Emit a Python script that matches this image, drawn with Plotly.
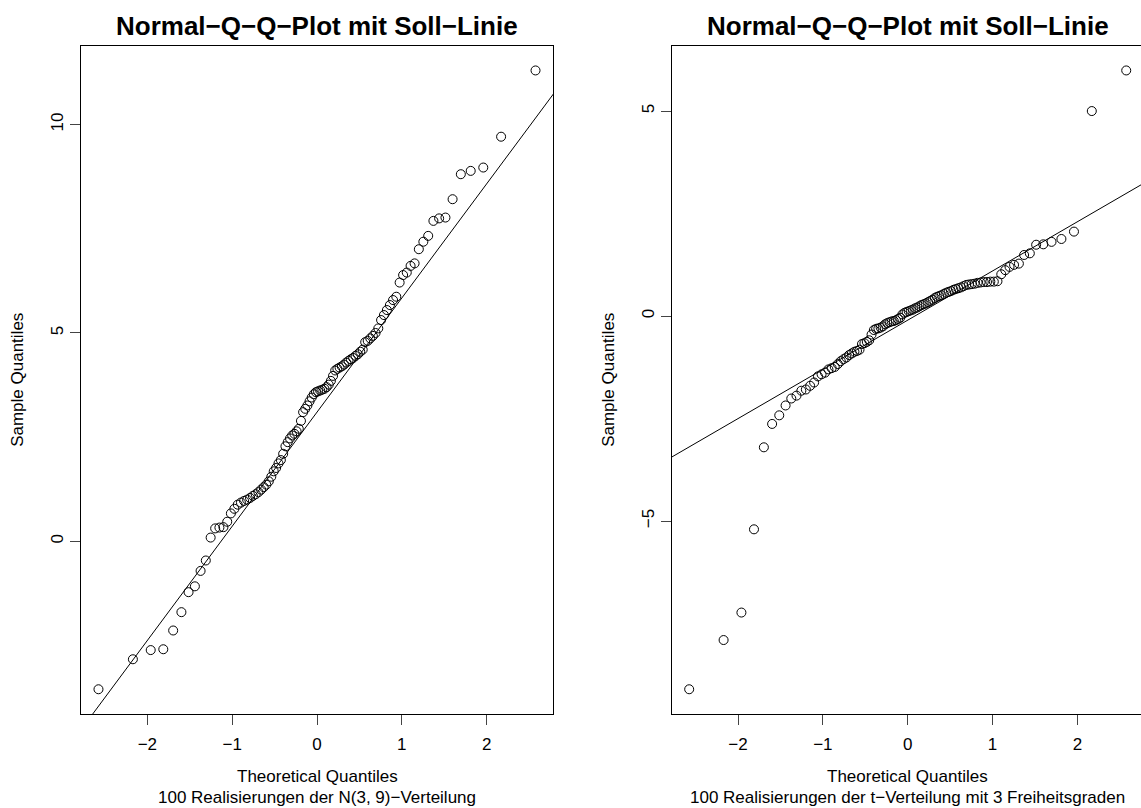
import plotly.graph_objects as go

# Theoretical normal quantiles for n = 100 (ppoints: (i - 0.5) / 100)
theo_quantiles = [
    -2.5758, -2.1701, -1.9600, -1.8119, -1.6954, -1.5982, -1.5141, -1.4395, -1.3722, -1.3106,
    -1.2536, -1.2004, -1.1503, -1.1031, -1.0581, -1.0152, -0.9741, -0.9346, -0.8965, -0.8596,
    -0.8239, -0.7892, -0.7554, -0.7225, -0.6903, -0.6588, -0.6280, -0.5978, -0.5681, -0.5388,
    -0.5101, -0.4817, -0.4538, -0.4261, -0.3989, -0.3719, -0.3451, -0.3186, -0.2924, -0.2663,
    -0.2404, -0.2147, -0.1891, -0.1637, -0.1383, -0.1130, -0.0878, -0.0627, -0.0376, -0.0125,
    0.0125, 0.0376, 0.0627, 0.0878, 0.1130, 0.1383, 0.1637, 0.1891, 0.2147, 0.2404,
    0.2663, 0.2924, 0.3186, 0.3451, 0.3719, 0.3989, 0.4261, 0.4538, 0.4817, 0.5101,
    0.5388, 0.5681, 0.5978, 0.6280, 0.6588, 0.6903, 0.7225, 0.7554, 0.7892, 0.8239,
    0.8596, 0.8965, 0.9346, 0.9741, 1.0152, 1.0581, 1.1031, 1.1503, 1.2004, 1.2536,
    1.3106, 1.3722, 1.4395, 1.5141, 1.5982, 1.6954, 1.8119, 1.9600, 2.1701, 2.5758,
]

# Sorted sample of 100 draws from N(3, 9)
sample_normal = [
    -3.55, -2.83, -2.61, -2.59, -2.14, -1.70, -1.22, -1.08, -0.71, -0.46,
    0.09, 0.31, 0.33, 0.34, 0.47, 0.67, 0.78, 0.88, 0.93, 0.97,
    1.00, 1.04, 1.09, 1.13, 1.18, 1.24, 1.30, 1.36, 1.44, 1.55,
    1.68, 1.76, 1.87, 1.95, 2.10, 2.28, 2.38, 2.47, 2.54, 2.58,
    2.64, 2.70, 2.89, 3.10, 3.18, 3.26, 3.36, 3.45, 3.53, 3.58,
    3.60, 3.62, 3.64, 3.66, 3.70, 3.76, 3.85, 3.97, 4.10, 4.14,
    4.17, 4.20, 4.24, 4.29, 4.33, 4.37, 4.40, 4.45, 4.49, 4.55,
    4.60, 4.78, 4.81, 4.87, 4.93, 5.00, 5.11, 5.31, 5.43, 5.55,
    5.67, 5.79, 5.87, 6.21, 6.39, 6.45, 6.61, 6.67, 7.01, 7.19,
    7.33, 7.69, 7.75, 7.77, 8.21, 8.81, 8.89, 8.97, 9.71, 11.30,
]

# Sorted sample of 100 draws from a t distribution with 3 degrees of freedom
sample_t3 = [
    -9.10, -7.90, -7.23, -5.20, -3.20, -2.63, -2.42, -2.18, -2.01, -1.94,
    -1.82, -1.79, -1.70, -1.62, -1.47, -1.42, -1.38, -1.30, -1.27, -1.24,
    -1.17, -1.10, -1.05, -1.01, -0.95, -0.91, -0.87, -0.85, -0.82, -0.68,
    -0.66, -0.63, -0.59, -0.45, -0.34, -0.31, -0.30, -0.28, -0.25, -0.20,
    -0.17, -0.15, -0.13, -0.12, -0.10, -0.07, -0.04, 0.04, 0.08, 0.10,
    0.12, 0.14, 0.16, 0.19, 0.21, 0.24, 0.27, 0.29, 0.31, 0.34,
    0.37, 0.40, 0.44, 0.47, 0.49, 0.51, 0.54, 0.57, 0.59, 0.61,
    0.64, 0.66, 0.68, 0.70, 0.73, 0.76, 0.77, 0.78, 0.79, 0.81,
    0.82, 0.83, 0.83, 0.84, 0.84, 0.85, 1.02, 1.12, 1.20, 1.25,
    1.28, 1.49, 1.53, 1.74, 1.75, 1.81, 1.88, 2.06, 5.00, 5.99,
]

# Reference lines (intercept, slope)
line_normal = (3.10, 2.74)
line_t3 = (-0.10, 1.20)

panel_titles = ["Normal\u2212Q\u2212Q\u2212Plot mit Soll\u2212Linie"] * 2
x_title = "Theoretical Quantiles"
y_title = "Sample Quantiles"
subtitles = [
    "100 Realisierungen der N(3, 9)\u2212Verteilung",
    "100 Realisierungen der t\u2212Verteilung mit 3 Freiheitsgraden",
]
x_ticks = [-2, -1, 0, 1, 2]
y_ticks_normal = [0, 5, 10]
y_ticks_t3 = [-5, 0, 5]

W, H = 1141, 808
FONT = "Liberation Sans, Arial, Helvetica, sans-serif"


def padded(vals, frac=0.04):
    lo, hi = min(vals), max(vals)
    span = hi - lo
    return [lo - frac * span, hi + frac * span]


# plot-region geometry in pixels
left_px = (81.0, 553.0)
right_left_px = 671.7
top_px, bottom_px = 45.7, 714.0

xr_full = padded(theo_quantiles)
px_per_unit = (left_px[1] - left_px[0]) / (xr_full[1] - xr_full[0])
xr_right = [xr_full[0], xr_full[0] + (W - right_left_px) / px_per_unit]

ydom = [1 - bottom_px / H, 1 - top_px / H]

fig = go.Figure()

marker = dict(symbol="circle-open", size=9, color="black", line=dict(width=1, color="black"))

fig.add_trace(go.Scatter(x=theo_quantiles, y=sample_normal, mode="markers",
                         marker=marker, xaxis="x", yaxis="y", showlegend=False))
fig.add_trace(go.Scatter(x=theo_quantiles, y=sample_t3, mode="markers",
                         marker=marker, xaxis="x2", yaxis="y2", showlegend=False))

for (a, b), xr, xa, ya in [(line_normal, xr_full, "x", "y"), (line_t3, xr_right, "x2", "y2")]:
    xs = [xr[0] - 1, xr[1] + 1]
    fig.add_trace(go.Scatter(x=xs, y=[a + b * v for v in xs], mode="lines",
                             line=dict(color="black", width=1),
                             xaxis=xa, yaxis=ya, showlegend=False))

axis_common = dict(
    showgrid=False, zeroline=False, showline=True, linecolor="black", linewidth=1,
    ticks="outside", ticklen=10, tickwidth=1, tickcolor="#444",
    tickfont=dict(family=FONT, size=17, color="black"),
)

fig.update_layout(
    width=W, height=H,
    margin=dict(l=0, r=0, t=0, b=0),
    paper_bgcolor="white", plot_bgcolor="white",
    xaxis=dict(domain=[left_px[0] / W, left_px[1] / W], range=xr_full,
               tickvals=x_ticks, mirror=True, anchor="y", ticklabelstandoff=5,
               **axis_common),
    yaxis=dict(domain=ydom, range=padded(sample_normal), tickvals=y_ticks_normal,
               tickangle=-90, mirror=True, anchor="x", **axis_common),
    xaxis2=dict(domain=[right_left_px / W, 1.0], range=xr_right,
                tickvals=x_ticks, mirror=True, anchor="y2", ticklabelstandoff=5,
                **axis_common),
    yaxis2=dict(domain=ydom, range=padded(sample_t3), tickvals=y_ticks_t3,
                tickangle=-90, mirror=False, anchor="x2", **axis_common),
)

annotations = []
centers = [(left_px[0] + left_px[1]) / 2, (right_left_px + right_left_px + 472) / 2]
ytitle_x = [18, 609]
for i in range(2):
    cx = centers[i] / W
    annotations.append(dict(text=f"<b>{panel_titles[i]}</b>", x=cx, y=1 - 26 / H,
                            xref="paper", yref="paper", showarrow=False,
                            xanchor="center", yanchor="middle",
                            font=dict(family=FONT, size=26, color="black")))
    annotations.append(dict(text=x_title, x=cx, y=1 - 776 / H,
                            xref="paper", yref="paper", showarrow=False,
                            xanchor="center", yanchor="middle",
                            font=dict(family=FONT, size=17, color="black")))
    annotations.append(dict(text=subtitles[i], x=cx, y=1 - 797 / H,
                            xref="paper", yref="paper", showarrow=False,
                            xanchor="center", yanchor="middle",
                            font=dict(family=FONT, size=17, color="black")))
    annotations.append(dict(text=y_title, x=ytitle_x[i] / W, y=1 - ((top_px + bottom_px) / 2) / H,
                            xref="paper", yref="paper", showarrow=False, textangle=-90,
                            xanchor="center", yanchor="middle",
                            font=dict(family=FONT, size=17, color="black")))
fig.update_layout(annotations=annotations)

fig.write_html("out.html")
